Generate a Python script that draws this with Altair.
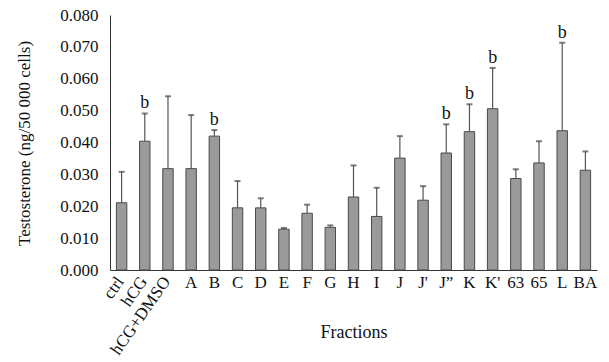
import altair as alt
import pandas as pd

categories = ["ctrl", "hCG", "hCG+DMSO", "A", "B", "C", "D", "E", "F", "G", "H", "I",
              "J", "J'", "J\u201d", "K", "K'", "63", "65", "L", "BA"]
means = [0.0211, 0.0404, 0.0318, 0.0318, 0.0420, 0.0195, 0.0195, 0.0128, 0.0178, 0.0134,
         0.0229, 0.0168, 0.0351, 0.0219, 0.0367, 0.0434, 0.0506, 0.0287, 0.0336, 0.0437, 0.0313]
upper = [0.0308, 0.0491, 0.0545, 0.0486, 0.0439, 0.0279, 0.0225, 0.0132, 0.0205, 0.0140,
         0.0328, 0.0258, 0.0420, 0.0263, 0.0457, 0.0520, 0.0634, 0.0316, 0.0404, 0.0713, 0.0372]
sig = ["", "b", "", "", "b", "", "", "", "", "", "", "", "", "", "b", "b", "b", "", "", "b", ""]
rotated = ["ctrl", "hCG", "hCG+DMSO"]
yticks = [0, 0.01, 0.02, 0.03, 0.04, 0.05, 0.06, 0.07, 0.08]

df = pd.DataFrame({"cat": categories, "mean": means, "upper": upper, "sig": sig})
rot_df = pd.DataFrame({"cat": rotated})

FONT = "Liberation Serif"

xscale = alt.Scale(domain=categories, paddingInner=0.55, paddingOuter=0.275)
yscale = alt.Scale(domain=[0, 0.08], nice=False)
xaxis = alt.Axis(title="Fractions", labelAngle=0, ticks=False,
                 labelExpr="indexof(['ctrl','hCG','hCG+DMSO'], datum.label) >= 0 ? '' : datum.label",
                 labelPadding=4, labelFontSize=17, labelFont=FONT, labelColor="#111",
                 titleFont=FONT, titleFontSize=18, titleFontWeight="normal", titleColor="#111",
                 titleY=62, titleBaseline="middle",
                 domainColor="#333", labelOverlap=False)
yaxis = alt.Axis(title="Testosterone (ng/50 000 cells)", format=".3f",
                 values=yticks, tickCount=9, labelOverlap=False,
                 grid=False, ticks=False, labelPadding=12, labelFontSize=17,
                 labelFont=FONT, labelColor="#111",
                 titleFont=FONT, titleFontSize=17, titleFontWeight="normal", titleColor="#111",
                 titleX=-86, titleY=128, titleAngle=-90, titleAlign="center",
                 titleBaseline="middle", domainColor="#333")

def X():
    return alt.X("cat:N", sort=categories, scale=xscale, axis=xaxis)

def Y(field):
    return alt.Y(field, scale=yscale, axis=yaxis)

bars = alt.Chart(df).mark_bar(color="#9a9a9a", stroke="#4a4a4a", strokeWidth=1).encode(
    x=X(), y=Y("mean:Q"))

err = alt.Chart(df).mark_rule(color="#555", strokeWidth=1.2).encode(
    x=X(), y=Y("mean:Q"), y2="upper:Q")

caps = alt.Chart(df).mark_tick(color="#444", thickness=2, size=6).encode(
    x=X(), y=Y("upper:Q"))

letters = alt.Chart(df).mark_text(font=FONT, fontSize=18, color="#111", dy=-5,
                                  baseline="alphabetic").encode(
    x=X(), y=Y("upper:Q"), text="sig:N")

rot_labels = alt.Chart(rot_df).mark_text(font=FONT, fontSize=17, color="#111", angle=305,
                                         align="right", baseline="middle", dx=-2).encode(
    x=X(), y=alt.value(262), text="cat:N")

chart = alt.layer(bars, err, caps, letters, rot_labels).properties(
    width=487, height=255,
    autosize=alt.AutoSizeParams(type="none"),
    padding={"left": 110, "top": 15, "right": 12, "bottom": 92},
    background="white",
).configure_view(stroke=None)

chart.save("out.html", embed_options={"renderer": "svg", "actions": False})
